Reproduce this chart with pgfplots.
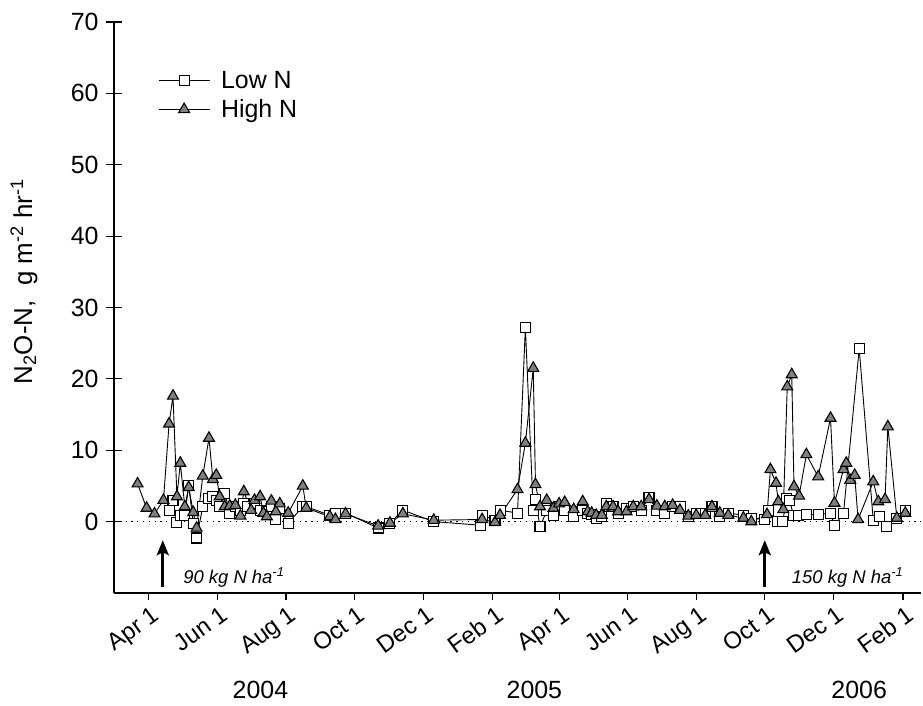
\documentclass[border=0pt]{standalone}
\usepackage{fontspec}
\setmainfont{Liberation Sans}
\usepackage{pgfplots}
\pgfplotsset{compat=1.18}
\usetikzlibrary{arrows.meta}
\definecolor{trigray}{HTML}{7F7F7F}
\begin{document}
\begin{tikzpicture}
\begin{axis}[
  at={(0,0)}, anchor=south west,
  scale only axis, width=807bp, height=571bp,
  xmin=-31, xmax=687, ymin=-10, ymax=70,
  axis x line*=bottom, axis y line*=left,
  axis line style={line width=1.1bp},
  xtick={0,61,122,183,244,306,365,426,487,548,609,671},
  xticklabels={Apr 1,Jun 1,Aug 1,Oct 1,Dec 1,Feb 1,Apr 1,Jun 1,Aug 1,Oct 1,Dec 1,Feb 1},
  xtick align=outside, major tick length=7bp,
  tick style={line width=1.1bp, black},
  xticklabel style={rotate=36, anchor=north east, font=\fontsize{24}{28}\selectfont, inner sep=1bp, yshift=-4bp},
  ytick={0,10,...,70},
  ytick style={draw=none},
  yticklabel style={font=\fontsize{25}{29}\selectfont, xshift=-12bp},
  /pgf/number format/assume math mode=true,
  clip=false,
  every axis y label/.style={at={(rel axis cs:-0.1016,0.545)}, rotate=90, anchor=base},
  ylabel={\fontsize{26}{30}\selectfont N\textsubscript{2}O-N,\ \ g m\textsuperscript{-2} hr\textsuperscript{-1}},
  legend style={at={(rel axis cs:0.0545,0.918)}, anchor=north west, draw=none, fill=none,
    font=\fontsize{25}{29}\selectfont, row sep=6bp, column sep=9bp, inner sep=0pt},
  legend cell align=left,
  legend image code/.code={\draw[mark repeat=2,mark phase=2,#1] plot coordinates {(0bp,0bp) (25.5bp,0bp) (51bp,0bp)};},
]
\addplot[black, line width=1bp, dash pattern=on 1.3bp off 4.5bp, forget plot] coordinates {(-31,0) (687,0)};

\addplot[black, line width=0.9bp, mark=square*, mark size=5bp, mark options={fill=white, draw=black, line width=1.1bp, solid}] coordinates {
(18,1.6) (21.5,3.0) (25,-0.1) (28,0.9) (32,0.9) (35.5,5.1) (39.5,-0.2) (42.5,-2.3) (48,2.1) (53,3.3) (57,3.5) (60,3.0) (63,2.1) (67.5,4.0) (72,1.1) (77,2.1) (81.5,1.6) (84.5,2.5) (88,2.1) (94,2.5) (99,1.6) (105,1.4) (109,2.1) (113,0.3) (116.5,1.9) (124,-0.2) (137,2.1) (140,2.1) (161,0.9) (166,1.1) (175,1.2) (204,-0.9) (214.5,-0.2) (226,1.6) (253.5,0.0) (295,-0.5) (297,0.9) (308,0.2) (312.5,1.6) (328,1.2) (335,27.2) (342,1.6) (344,3.1) (348,-0.7) (354,1.5) (360,0.9) (365,2.1) (370,1.5) (378,0.7) (386,1.6) (390.5,1.2) (394,1.0) (398,0.5) (403,0.7) (407,2.5) (413,2.1) (417.5,1.2) (425,1.9) (431,2.1) (438,1.6) (445,3.4) (452,1.6) (459,1.2) (466,2.1) (473,2.1) (480,0.7) (487,1.2) (495,1.2) (501,2.1) (508,0.7) (515.5,1.2) (529,0.9) (536,0.5) (548,0.3) (551,1.6) (559,0.0) (564,0.0) (567.5,3.3) (570,3.0) (573.5,0.9) (578,0.8) (585,1.0) (595.5,1.0) (606.5,1.2) (610,-0.5) (618,1.1) (632,24.2) (644.5,0.2) (650,0.7) (656.5,-0.7) (665.5,0.5) (673,1.6)
};
\addlegendentry{Low N}

\addplot[black, line width=0.9bp, mark=triangle*, mark size=6.3bp, mark options={fill=trigray, draw=black, line width=1.1bp, solid}] coordinates {
(-10,5.3) (-2,1.9) (5,1.1) (13,3.0) (18,13.7) (21.5,17.6) (25,3.5) (28,8.2) (32,2.1) (35.5,4.8) (39.5,1.3) (42.5,-0.9) (48,6.4) (53.5,11.7) (57,5.9) (60,6.5) (63,3.5) (67.5,2.1) (72,2.2) (77,2.3) (81.5,0.8) (84.5,4.2) (91,1.6) (94,3.0) (99,3.5) (102,1.2) (105,0.7) (109,2.9) (113,1.4) (116.5,2.5) (124,1.2) (137,5.0) (140,1.9) (161,0.7) (166,0.3) (175,1.1) (204,-0.6) (214.5,-0.2) (226,1.1) (253.5,0.2) (296.5,0.3) (308,-0.1) (312.5,0.9) (328,4.5) (335,11.0) (342,21.5) (344,5.2) (348,2.1) (354,3.0) (360,1.9) (365,2.5) (370,2.7) (378,1.7) (386,2.8) (390.5,1.4) (394,1.2) (398,0.9) (403,0.9) (407,2.1) (413,2.1) (417.5,1.4) (425,1.4) (431,2.1) (438,2.1) (445,3.1) (452,2.2) (459,2.1) (466,2.3) (472.5,1.6) (480,0.8) (487,0.9) (495,0.9) (501,2.1) (508,1.2) (515.5,0.9) (529,0.5) (536,0.0) (550,1.0) (553,7.3) (558,5.4) (560,2.8) (564.5,1.7) (568,18.9) (572,20.6) (574,4.9) (578.5,3.6) (585,9.4) (595.5,6.3) (606.5,14.5) (610,2.6) (618,7.3) (620.5,8.2) (624,5.8) (628,6.5) (631,0.3) (644.5,5.6) (649,2.8) (655,3.1) (657.5,13.3) (665.5,0.5) (673,1.2)
};
\addlegendentry{High N}

\draw[line width=3bp, -{Stealth[length=15bp,width=12bp,inset=3bp]}] (axis cs:12.4,-9.2) -- (axis cs:12.4,-2.6);
\draw[line width=3bp, -{Stealth[length=15bp,width=12bp,inset=3bp]}] (axis cs:548,-9.2) -- (axis cs:548,-2.6);
\node[anchor=base west, font=\itshape\fontsize{18.5}{22}\selectfont, inner sep=0pt] at (axis cs:30.5,-8.6) {90 kg N ha\textsuperscript{-1}};
\node[anchor=base west, font=\itshape\fontsize{18.5}{22}\selectfont, inner sep=0pt] at (axis cs:572,-8.6) {150 kg N ha\textsuperscript{-1}};
\node[font=\fontsize{25}{29}\selectfont] at (axis cs:99.3,-23.6) {2004};
\node[font=\fontsize{25}{29}\selectfont] at (axis cs:343,-23.6) {2005};
\node[font=\fontsize{25}{29}\selectfont] at (axis cs:632,-23.6) {2006};
\end{axis}
\begin{axis}[
  at={(0,0)}, anchor=south west,
  scale only axis, width=807bp, height=571bp,
  xmin=-31, xmax=687, ymin=-10, ymax=70,
  hide x axis, axis y line*=left,
  axis line style={line width=1.1bp},
  ytick={0,10,...,70}, yticklabels={},
  ytick align=center, major tick length=16bp,
  tick style={line width=1.1bp, black},
]
\end{axis}
\pgfresetboundingbox
\path[use as bounding box] (-114bp,-113bp) rectangle (809bp,593bp);
\end{tikzpicture}
\end{document}
